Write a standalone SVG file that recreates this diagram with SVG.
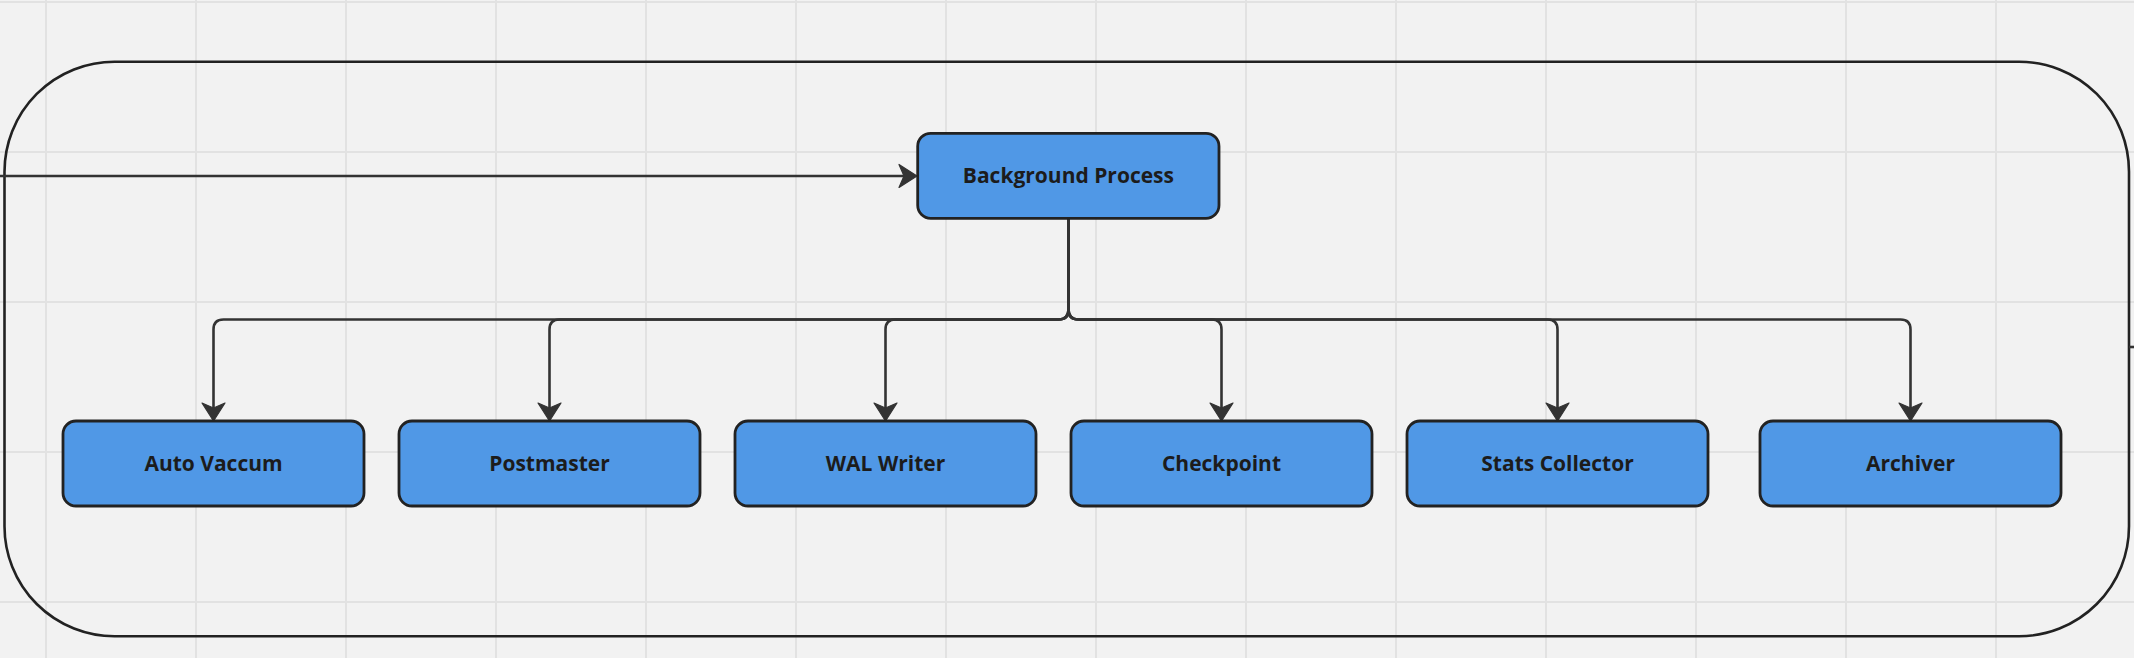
<svg xmlns="http://www.w3.org/2000/svg" width="2134" height="658" viewBox="0 0 2134 658">
<defs>
<style>
.grid{stroke:#e2e2e2;stroke-width:2;fill:none}
.frame{fill:none;stroke:#222;stroke-width:2.6}
.node rect{fill:#5098e6;stroke:#222;stroke-width:2.8}
.node text{font-family:"Open Sans","Noto Sans","Liberation Sans",sans-serif;font-weight:700;font-size:21px;fill:#1c1c1c;text-anchor:middle}
.conn{fill:none;stroke:#333;stroke-width:2.6;stroke-linejoin:round}
</style>
<marker id="arr" viewBox="-20 -13 22 26" markerWidth="22" markerHeight="26" refX="-13" refY="0" orient="auto" markerUnits="userSpaceOnUse">
<path d="M0,0 L-18,-11.5 L-13,0 L-18,11.5 Z" fill="#333" stroke="#333" stroke-width="1.2" stroke-linejoin="round"/>
</marker>
</defs>
<rect width="2134" height="658" fill="#f2f2f2"/>
<g class="grid">
<path d="M46,0V658M196,0V658M346,0V658M496,0V658M646,0V658M796,0V658M946,0V658M1096,0V658M1246,0V658M1396,0V658M1546,0V658M1696,0V658M1846,0V658M1996,0V658"/>
<path d="M0,2H2134M0,152H2134M0,302H2134M0,452H2134M0,602H2134"/>
</g>
<rect class="frame" x="4.5" y="61.7" width="2124.5" height="574.5" rx="110" ry="110"/>
<g id="connectors">
<path class="conn" d="M0,176 H904" marker-end="url(#arr)"/>
<path class="conn" d="M2129,347 H2134"/>
<path class="conn" d="M1068.5,218.5 V309.5 Q1068.5,319.5 1058.5,319.5 H223.5 Q213.5,319.5 213.5,329.5 V408" marker-end="url(#arr)"/>
<path class="conn" d="M1068.5,218.5 V309.5 Q1068.5,319.5 1058.5,319.5 H559.5 Q549.5,319.5 549.5,329.5 V408" marker-end="url(#arr)"/>
<path class="conn" d="M1068.5,218.5 V309.5 Q1068.5,319.5 1058.5,319.5 H895.5 Q885.5,319.5 885.5,329.5 V408" marker-end="url(#arr)"/>
<path class="conn" d="M1068.5,218.5 V309.5 Q1068.5,319.5 1078.5,319.5 H1211.5 Q1221.5,319.5 1221.5,329.5 V408" marker-end="url(#arr)"/>
<path class="conn" d="M1068.5,218.5 V309.5 Q1068.5,319.5 1078.5,319.5 H1547.5 Q1557.5,319.5 1557.5,329.5 V408" marker-end="url(#arr)"/>
<path class="conn" d="M1068.5,218.5 V309.5 Q1068.5,319.5 1078.5,319.5 H1900.5 Q1910.5,319.5 1910.5,329.5 V408" marker-end="url(#arr)"/>
</g>
<g id="background-process" class="node">
<rect x="917.7" y="133.3" width="301.3" height="85" rx="13"/>
<text x="1068.4" y="183.3">Background Process</text>
</g>
<g id="auto-vaccum" class="node">
<rect x="63" y="421" width="301" height="85" rx="13"/>
<text x="213.5" y="471.3">Auto Vaccum</text>
</g>
<g id="postmaster" class="node">
<rect x="399" y="421" width="301" height="85" rx="13"/>
<text x="549.5" y="471.3">Postmaster</text>
</g>
<g id="wal-writer" class="node">
<rect x="735" y="421" width="301" height="85" rx="13"/>
<text x="885.5" y="471.3">WAL Writer</text>
</g>
<g id="checkpoint" class="node">
<rect x="1071" y="421" width="301" height="85" rx="13"/>
<text x="1221.5" y="471.3">Checkpoint</text>
</g>
<g id="stats-collector" class="node">
<rect x="1407" y="421" width="301" height="85" rx="13"/>
<text x="1557.5" y="471.3">Stats Collector</text>
</g>
<g id="archiver" class="node">
<rect x="1760" y="421" width="301" height="85" rx="13"/>
<text x="1910.5" y="471.3">Archiver</text>
</g>
</svg>
